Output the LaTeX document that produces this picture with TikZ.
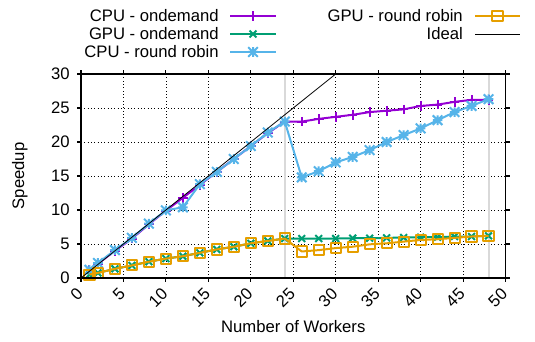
\documentclass[tikz,border=0pt]{standalone}
\usepackage{fontspec}
\setmainfont{Liberation Sans}
\usetikzlibrary{plotmarks}

\definecolor{gpPurple}{HTML}{9400D3}
\definecolor{gpGreen}{HTML}{009E73}
\definecolor{gpBlue}{HTML}{56B4E9}
\definecolor{gpOrange}{HTML}{E69F00}

% gnuplot style asterisk (+ and x together)
\pgfdeclareplotmark{gpstar}{%
  \pgfpathmoveto{\pgfqpoint{-\pgfplotmarksize}{0pt}}%
  \pgfpathlineto{\pgfqpoint{\pgfplotmarksize}{0pt}}%
  \pgfpathmoveto{\pgfqpoint{0pt}{-\pgfplotmarksize}}%
  \pgfpathlineto{\pgfqpoint{0pt}{\pgfplotmarksize}}%
  \pgfpathmoveto{\pgfqpoint{-\pgfplotmarksize}{-\pgfplotmarksize}}%
  \pgfpathlineto{\pgfqpoint{\pgfplotmarksize}{\pgfplotmarksize}}%
  \pgfpathmoveto{\pgfqpoint{-\pgfplotmarksize}{\pgfplotmarksize}}%
  \pgfpathlineto{\pgfqpoint{\pgfplotmarksize}{-\pgfplotmarksize}}%
  \pgfusepathqstroke}

\begin{document}
\begin{tikzpicture}[x=6.3675pt, y=5.1pt, font=\fontsize{12.5}{14}\selectfont,
    curve/.style={line width=1.5pt, line join=round, mark size=3.6pt, mark options={solid, line width=1.5pt}},
    gridline/.style={dotted, line width=0.5pt},
    tick/.style={line width=0.8pt},
    ticklabel/.style={inner sep=0pt}]

    \useasboundingbox (-9.541,-9.412) rectangle (53.475,40.882);

    % Grid
    \foreach \x in {5,10,...,45} \draw[gridline] (\x,0) -- (\x,30);
    \foreach \y in {5,10,...,25} \draw[gridline] (0,\y) -- (50,\y);

    % Marker lines at 24 and 48 workers
    \foreach \x in {24,48} \draw[black!15, line width=1.5pt] (\x,0) -- (\x,30);

    % Ticks
    \foreach \x in {0,5,...,50} {
        \draw[tick] (\x,0) -- ++(0pt,-3pt);
        \draw[tick] (\x,30) -- ++(0pt,3pt);
    }
    \foreach \y in {0,5,...,30} {
        \draw[tick] (0,\y) -- ++(-3pt,0pt);
        \draw[tick] (50,\y) -- ++(3pt,0pt);
    }

    % Tick labels
    \foreach \x in {0,5,...,50} \node[ticklabel, rotate=45, anchor=east] (xt\x) at (\x-0.12,-1.9) {\x};
    \foreach \y in {0,5,...,30} \node[ticklabel, anchor=east] (yt\y) at (-1.3,\y) {\y};

    % Axis labels
    \node (xlabel) at (25,-7.1) {Number of Workers};
    \node[rotate=90] (ylabel) at (-7.2,15) {Speedup};

    % CPU - ondemand
    \draw[curve, gpPurple, mark=+] plot coordinates {(1,1.2) (2,2.1) (4,4.0) (6,5.8) (8,7.9) (10,9.9)
        (12,11.8) (14,13.7) (16,15.6) (18,17.5) (20,19.4) (22,21.3) (24,23.0) (26,23.0) (28,23.4)
        (30,23.7) (32,24.0) (34,24.4) (36,24.6) (38,24.8) (40,25.3) (42,25.5) (44,25.9) (46,26.2) (48,26.2)};

    % GPU - ondemand
    \draw[curve, gpGreen, mark=x] plot coordinates {(1,0.5) (2,0.75) (4,1.35) (6,1.85) (8,2.4) (10,2.85)
        (12,3.2) (14,3.7) (16,4.2) (18,4.6) (20,5.1) (22,5.45) (24,5.8) (26,5.8) (28,5.8)
        (30,5.8) (32,5.85) (34,5.85) (36,5.9) (38,5.95) (40,6.0) (42,6.0) (44,6.1) (46,6.1) (48,6.2)};

    % CPU - round robin
    \draw[curve, gpBlue, mark=gpstar] plot coordinates {(1,1.2) (2,2.2) (4,4.1) (6,5.9) (8,8.0) (10,9.95)
        (12,10.4) (14,13.8) (16,15.6) (18,17.5) (20,19.4) (22,21.4) (24,23.0) (26,14.8) (28,15.7)
        (30,17.0) (32,17.8) (34,18.8) (36,20.0) (38,21.0) (40,22.0) (42,23.2) (44,24.4) (46,25.3) (48,26.3)};

    % GPU - round robin
    \draw[curve, gpOrange, mark=square, mark size=3.8pt] plot coordinates {(1,0.5) (2,0.75) (4,1.35) (6,1.85) (8,2.4) (10,2.85)
        (12,3.2) (14,3.7) (16,4.2) (18,4.6) (20,5.1) (22,5.45) (24,5.8) (26,3.9) (28,4.1)
        (30,4.4) (32,4.6) (34,4.95) (36,5.1) (38,5.35) (40,5.6) (42,5.7) (44,5.9) (46,6.1) (48,6.2)};

    % Ideal
    \coordinate (ideal0) at (0,0);
    \coordinate (ideal1) at (30,30);
    \draw[black, line width=0.6pt] (ideal0) -- (ideal1);

    % Border
    \draw[line width=1pt] (0,0) rectangle (50,30);

    % Legend
    \node[ticklabel, anchor=east] (lg1) at (16.25,38.53) {CPU - ondemand};
    \node[ticklabel, anchor=east] (lg2) at (16.25,35.88) {GPU - ondemand};
    \node[ticklabel, anchor=east] (lg3) at (16.25,33.24) {CPU - round robin};
    \node[ticklabel, anchor=east] (lg4) at (45.0,38.53) {GPU - round robin};
    \node[ticklabel, anchor=east] (lg5) at (45.0,35.88) {Ideal};

    \coordinate (k1a) at (17.55,38.53); \coordinate (k1b) at (22.97,38.53); \coordinate (k1) at (20.26,38.53);
    \coordinate (k2a) at (17.55,35.88); \coordinate (k2b) at (22.97,35.88); \coordinate (k2) at (20.26,35.88);
    \coordinate (k3a) at (17.55,33.24); \coordinate (k3b) at (22.97,33.24); \coordinate (k3) at (20.26,33.24);
    \coordinate (k4a) at (46.41,38.53); \coordinate (k4b) at (51.71,38.53); \coordinate (k4) at (49.06,38.53);
    \coordinate (k5a) at (46.41,35.88); \coordinate (k5b) at (51.71,35.88);

    \draw[curve, gpPurple] (k1a) -- (k1b);
    \draw[curve, gpPurple, mark=+] plot coordinates {(k1)};
    \draw[curve, gpGreen] (k2a) -- (k2b);
    \draw[curve, gpGreen, mark=x] plot coordinates {(k2)};
    \draw[curve, gpBlue] (k3a) -- (k3b);
    \draw[curve, gpBlue, mark=gpstar] plot coordinates {(k3)};
    \draw[curve, gpOrange] (k4a) -- (k4b);
    \draw[curve, gpOrange, mark=square, mark size=3.8pt] plot coordinates {(k4)};
    \draw[black, line width=0.6pt] (k5a) -- (k5b);
\end{tikzpicture}
\end{document}
